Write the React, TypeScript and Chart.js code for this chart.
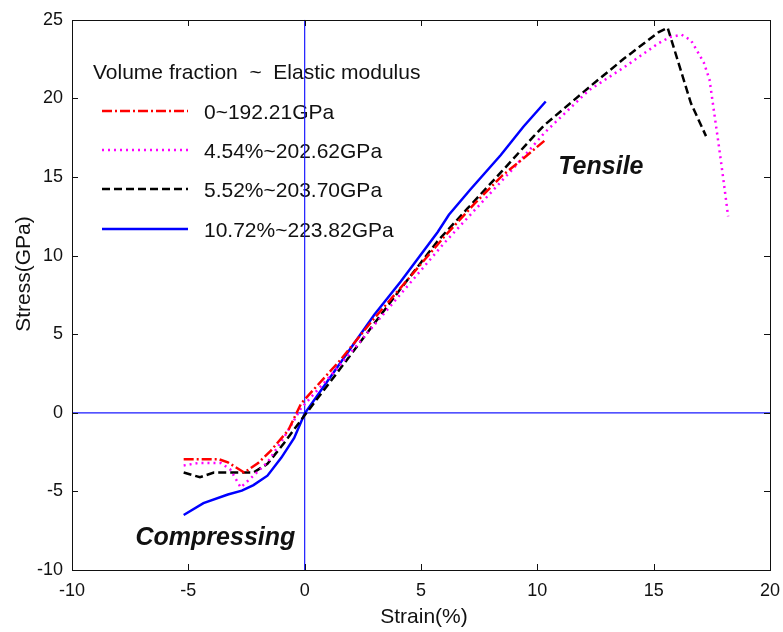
import React, { useEffect, useRef } from "react";
import { Chart, registerables } from "chart.js";

Chart.register(...registerables);

// ---- Data (strain %, stress GPa) ----
const seriesLabels = ["0~192.21GPa", "4.54%~202.62GPa", "5.52%~203.70GPa", "10.72%~223.82GPa"];
const legendTitle = "Volume fraction  ~  Elastic modulus";

const strainA = [-5.2, -3.7, -3.3, -2.6, -2.0, -1.45, -0.7, -0.15, 1.5, 2.9, 4.5, 6.0, 7.3, 8.5, 9.5, 10.3];
const stressA = [-2.95, -2.95, -3.15, -3.8, -3.2, -2.4, -1.1, 0.6, 3.3, 5.85, 8.6, 11.2, 13.3, 15.1, 16.3, 17.3];

const strainB = [-5.2, -4.6, -3.6, -3.2, -2.75, -2.2, -1.6, -0.9, -0.15, 1.5, 3.0, 4.5, 6.0, 7.5, 9.0, 10.3, 12.2, 13.7, 15.2, 15.7, 16.2, 16.6, 17.15, 17.4, 17.6, 17.8, 18.0, 18.2];
const stressB = [-3.35, -3.2, -3.2, -3.6, -4.75, -4.0, -3.15, -1.6, 0.3, 3.0, 5.6, 8.2, 10.8, 13.2, 15.6, 17.8, 20.5, 21.95, 23.5, 23.9, 24.05, 23.7, 22.3, 21.2, 19.1, 17.0, 14.8, 12.5];

const strainC = [-5.2, -4.5, -3.9, -3.0, -2.2, -1.6, -0.9, -0.15, 1.5, 3.0, 4.13, 5.7, 7.0, 8.5, 9.85, 10.3, 12.3, 13.7, 15.2, 15.6, 16.1, 16.6, 17.25];
const stressC = [-3.8, -4.1, -3.8, -3.8, -3.8, -3.25, -1.95, -0.45, 2.75, 5.7, 7.9, 10.9, 13.0, 15.4, 17.6, 18.3, 20.8, 22.5, 24.2, 24.5, 22.1, 19.7, 17.6];

const strainD = [-5.2, -4.35, -3.3, -2.7, -2.2, -1.6, -1.0, -0.45, 0.0, 1.5, 3.0, 4.13, 5.72, 6.2, 7.14, 8.43, 9.4, 10.36];
const stressD = [-6.5, -5.75, -5.2, -4.95, -4.6, -4.0, -2.85, -1.6, -0.05, 3.1, 6.25, 8.35, 11.5, 12.6, 14.24, 16.4, 18.2, 19.8];

// reference cross lines
const hLineX = [-10, 20];
const hLineY = [0, 0];
const vLineX = [0, 0];
const vLineY = [-10, 25];

const xTicks = [-10, -5, 0, 5, 10, 15, 20];
const yTicks = [-10, -5, 0, 5, 10, 15, 20, 25];

const FONT = "'Liberation Sans', Arial, sans-serif";

const pts = (xs: number[], ys: number[]) => xs.map((x, i) => ({ x, y: ys[i] }));

const decorPlugin = {
  id: "decor",
  beforeDatasetsDraw(chart: any) {
    const ctx = chart.ctx;
    ctx.save();
    ctx.fillStyle = "#111";
    ctx.font = `21px ${FONT}`;
    ctx.textBaseline = "alphabetic";
    ctx.textAlign = "left";
    ctx.fillText(legendTitle, 93, 79);
    const rows = [111, 150, 189, 229];
    chart.data.datasets.slice(0, 4).forEach((ds: any, i: number) => {
      const y = rows[i];
      ctx.beginPath();
      ctx.strokeStyle = ds.borderColor;
      ctx.lineWidth = ds.borderWidth;
      ctx.setLineDash(ds.borderDash || []);
      ctx.moveTo(102, y);
      ctx.lineTo(188, y);
      ctx.stroke();
      ctx.setLineDash([]);
      ctx.fillText(ds.label, 204, y + 7.5);
    });
    ctx.restore();
  },
  afterDraw(chart: any) {
    const ctx = chart.ctx;
    const xs = chart.scales.x;
    const ys = chart.scales.y;
    const l = Math.round(xs.getPixelForValue(-10));
    const r = Math.round(xs.getPixelForValue(20));
    const t = Math.round(ys.getPixelForValue(25));
    const b = Math.round(ys.getPixelForValue(-10));
    ctx.save();
    ctx.setLineDash([]);
    ctx.fillStyle = "#111";
    // frame
    ctx.fillRect(l, t, r - l + 1, 1);
    ctx.fillRect(l, b, r - l + 1, 1);
    ctx.fillRect(l, t, 1, b - t + 1);
    ctx.fillRect(r, t, 1, b - t + 1);
    const tl = 6;
    xTicks.forEach((v) => {
      const p = Math.round(xs.getPixelForValue(v));
      ctx.fillRect(p, b - tl, 1, tl);
      ctx.fillRect(p, t, 1, tl);
    });
    yTicks.forEach((v) => {
      const p = Math.round(ys.getPixelForValue(v));
      ctx.fillRect(l, p, tl, 1);
      ctx.fillRect(r - tl, p, tl, 1);
    });

    // axis titles
    ctx.font = `21px ${FONT}`;
    ctx.textAlign = "center";
    ctx.textBaseline = "alphabetic";
    ctx.fillText("Strain(%)", (l + r) / 2 + 3, 623);
    ctx.save();
    ctx.translate(30, 274);
    ctx.rotate(-Math.PI / 2);
    ctx.fillText("Stress(GPa)", 0, 0);
    ctx.restore();

    // annotations
    ctx.font = `italic bold 25px ${FONT}`;
    ctx.textAlign = "left";
    ctx.fillText("Tensile", xs.getPixelForValue(10.9), ys.getPixelForValue(15.2));
    ctx.fillText("Compressing", xs.getPixelForValue(-7.27), ys.getPixelForValue(-8.42));
    ctx.restore();
  },
};

export default function App() {
  const ref = useRef<HTMLCanvasElement>(null);
  useEffect(() => {
    if (!ref.current) return;
    const chart = new Chart(ref.current, {
      type: "scatter",
      data: {
        datasets: [
          {
            label: seriesLabels[0],
            data: pts(strainA, stressA),
            borderColor: "#ff0000",
            borderWidth: 2.5,
            borderDash: [10, 3, 2, 3],
            showLine: true,
            pointRadius: 0,
          },
          {
            label: seriesLabels[1],
            data: pts(strainB, stressB),
            borderColor: "#ff00ff",
            borderWidth: 2.5,
            borderDash: [2, 4],
            showLine: true,
            pointRadius: 0,
          },
          {
            label: seriesLabels[2],
            data: pts(strainC, stressC),
            borderColor: "#000000",
            borderWidth: 2.5,
            borderDash: [8, 4],
            showLine: true,
            pointRadius: 0,
          },
          {
            label: seriesLabels[3],
            data: pts(strainD, stressD),
            borderColor: "#0000ff",
            borderWidth: 2.5,
            showLine: true,
            pointRadius: 0,
          },
          {
            label: "h",
            data: pts(hLineX, hLineY),
            borderColor: "#1a1aff",
            borderWidth: 1.2,
            showLine: true,
            pointRadius: 0,
          },
          {
            label: "v",
            data: pts(vLineX, vLineY),
            borderColor: "#1a1aff",
            borderWidth: 1.2,
            showLine: true,
            pointRadius: 0,
          },
        ],
      },
      options: {
        animation: false,
        responsive: false,
        events: [],
        layout: { padding: { top: 17, right: 13, left: 0, bottom: 0 } },
        plugins: { legend: { display: false }, tooltip: { enabled: false } },
        scales: {
          x: {
            type: "linear",
            min: -10,
            max: 20,
            grid: { display: false, drawTicks: false },
            border: { display: false },
            afterFit: (s: any) => {
              s.height = 62;
              s.paddingLeft = 0;
              s.paddingRight = 0;
            },
            afterBuildTicks: (s: any) => {
              s.ticks = xTicks.map((v) => ({ value: v }));
            },
            ticks: { color: "#111", padding: 10, font: { size: 18, family: FONT }, maxRotation: 0 },
          },
          y: {
            type: "linear",
            min: -10,
            max: 25,
            grid: { display: false, drawTicks: false },
            border: { display: false },
            afterFit: (s: any) => {
              s.width = 72;
            },
            afterBuildTicks: (s: any) => {
              s.ticks = yTicks.map((v) => ({ value: v }));
            },
            ticks: { color: "#111", padding: 9, font: { size: 18, family: FONT } },
          },
        },
      } as any,
      plugins: [decorPlugin],
    });
    return () => chart.destroy();
  }, []);
  return (
    <div style={{ position: "fixed", left: 0, top: 0, width: 783, height: 632, background: "#fff" }}>
      <canvas ref={ref} width={783} height={632} style={{ display: "block" }} />
    </div>
  );
}
